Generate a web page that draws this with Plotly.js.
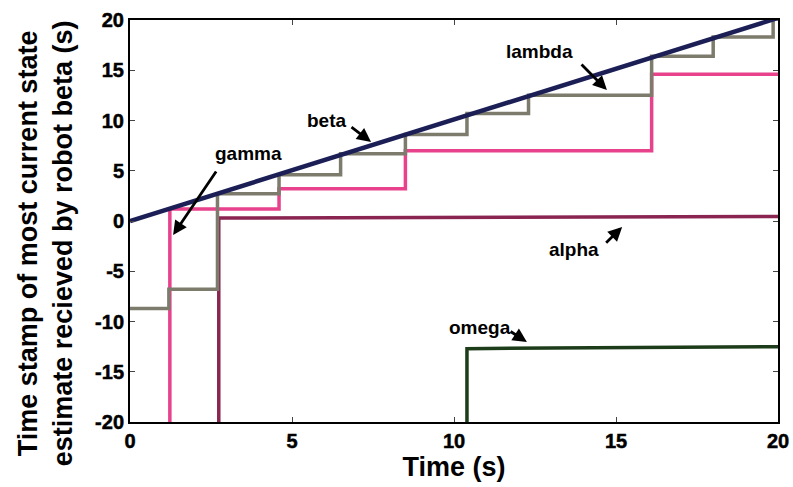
<!DOCTYPE html>
<html>
<head>
<meta charset="utf-8">
<script src="https://cdn.plot.ly/plotly-3.0.1.min.js"></script>
<style>html,body{margin:0;padding:0;background:#fff;}#chart{width:793px;height:487px;}
#chart .xtick text, #chart .ytick text { font-weight: bold !important; stroke: #000; stroke-width: 0.5px; }
</style>
</head>
<body>
<div id="chart"></div>
<script>
// Data
const betaX = [0, 20];
const betaY = [0, 20.2];

const lambdaX = [0, 1.2, 2.7, 4.6, 6.5, 8.5, 10.4, 12.3, 16.1, 18.0, 19.85, 20];
const lambdaY = [-8.7, -6.8, 2.7, 4.6, 6.7, 8.6, 10.7, 12.5, 16.4, 18.3, 20.1, 20.1];

const gammaX = [1.23, 1.23, 4.6, 8.5, 16.1, 20];
const gammaY = [-20, 1.2, 3.2, 7.0, 14.6, 14.6];

const alphaX = [2.74, 2.74, 20];
const alphaY = [-20, 0.3, 0.45];

const omegaX = [10.4, 10.4, 20];
const omegaY = [-20, -12.7, -12.5];

const yTickVals = [-20, -15, -10, -5, 0, 5, 10, 15, 20];
const yTickText = ['-20', '-15', '-10', '-5', '0', '5', '10', '15', '20'];
const xTickVals = [0, 5, 10, 15, 20];
const xTickText = ['0', '5', '10', '15', '20'];

// label text and label centre
const labelNames = ['gamma', 'beta', 'lambda', 'alpha', 'omega'];
const labelX = [3.66, 6.08, 12.65, 13.69, 10.79];
const labelY = [6.67, 10.05, 16.9, -2.79, -10.55];
// arrow tail and tip
const tailX = [2.69, 6.79, 13.89, 14.65, 11.7];
const tailY = [5.07, 9.45, 15.72, -2.3, -10.9];
const tipX = [1.33, 7.44, 14.72, 15.19, 12.25];
const tipY = [-1.39, 7.86, 13.03, -0.6, -12.04];

const yTitle = 'Time stamp of most current state<br>estimate recieved by robot beta (s)';
const xTitle = 'Time (s)';

const FONT = '"Liberation Sans", Arial, sans-serif';

const traces = [
  {x: omegaX, y: omegaY, mode: 'lines', line: {color: '#1d3d1a', width: 3.5}, name: 'omega'},
  {x: alphaX, y: alphaY, mode: 'lines', line: {color: '#8a2552', width: 3.5}, name: 'alpha'},
  {x: gammaX, y: gammaY, mode: 'lines', line: {color: '#e8428c', width: 3.5, shape: 'hv'}, name: 'gamma'},
  {x: lambdaX, y: lambdaY, mode: 'lines', line: {color: '#7d7b6c', width: 3.5, shape: 'hv'}, name: 'lambda'},
  {x: betaX, y: betaY, mode: 'lines', line: {color: '#1b1f55', width: 4.5}, name: 'beta'}
];

const annotations = [];
labelNames.forEach((t, i) => {
  annotations.push({
    x: labelX[i], y: labelY[i], xref: 'x', yref: 'y', showarrow: false,
    text: '<b>' + t + '</b>', font: {family: FONT, size: 19, color: '#000'}
  });
  annotations.push({
    x: tipX[i], y: tipY[i], xref: 'x', yref: 'y',
    ax: tailX[i], ay: tailY[i], axref: 'x', ayref: 'y',
    text: '', showarrow: true,
    arrowhead: 2, arrowsize: 1.0, arrowwidth: 2.8, arrowcolor: '#000'
  });
});
// y-axis title, placed like the reference (slightly below plot centre)
annotations.push({
  x: -0.131, y: 0.445, xref: 'paper', yref: 'paper', xanchor: 'center', yanchor: 'middle',
  showarrow: false, textangle: -90, text: '<b>' + yTitle + '</b>',
  font: {family: FONT, size: 27, color: '#000'}
});

const tickFont = {family: FONT, size: 20, color: '#000', weight: 'bold'};

const layout = {
  width: 793, height: 487,
  margin: {l: 130, r: 15, t: 20, b: 65},
  paper_bgcolor: '#fff', plot_bgcolor: '#fff',
  showlegend: false,
  font: {family: FONT, color: '#000'},
  xaxis: {
    range: [0, 20], tickvals: xTickVals, ticktext: xTickText,
    ticks: 'inside', ticklen: 5, tickwidth: 1, ticklabelstandoff: 0,
    showgrid: false, zeroline: false, showline: true, linecolor: '#000', linewidth: 2, mirror: 'ticks',
    tickfont: tickFont,
    title: {text: '<b>' + xTitle + '</b>', font: {family: FONT, size: 27, color: '#000'}, standoff: 0}
  },
  yaxis: {
    range: [-20, 20], tickvals: yTickVals, ticktext: yTickText,
    ticks: 'inside', ticklen: 5, tickwidth: 1,
    showgrid: false, zeroline: false, showline: true, linecolor: '#000', linewidth: 2, mirror: 'ticks',
    tickfont: tickFont
  },
  annotations: annotations
};

Plotly.newPlot('chart', traces, layout, {staticPlot: true, displayModeBar: false});
</script>
</body>
</html>
